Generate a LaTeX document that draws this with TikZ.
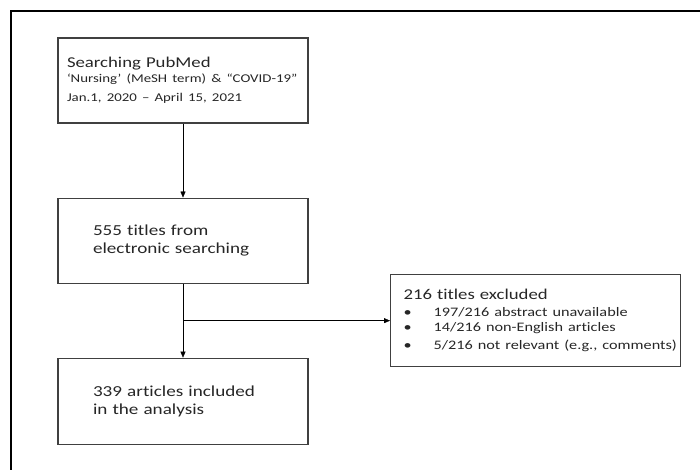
\documentclass[tikz,border=0pt]{standalone}
\usepackage{fontspec}
\setmainfont[FakeStretch=1.25, Ligatures=CommonOff]{Carlito}
\usetikzlibrary{positioning,arrows.meta}

\begin{document}
\begin{tikzpicture}[
  x=1pt, y=-1pt,
  box/.style={draw=black!75, line width=1.1pt, minimum width=250pt,
              minimum height=85pt, align=left, text width=180pt,
              inner xsep=35pt, inner ysep=0pt, text=black!85,
              font=\fontsize{15.3}{18.5}\selectfont},
  >={Triangle[length=6pt,width=5pt]}
]
  \useasboundingbox (0,0) rectangle (700,470);
  \draw[line width=1.3pt] (11,470) -- (11,11) -- (700,11);

  \node[box, text width=232pt, inner xsep=9pt] (search) at (183,80.5)
    {{\fontsize{15}{17}\selectfont Searching PubMed}\\[1pt]
     \fontsize{11.9}{14}\selectfont
     \mbox{‘Nursing’ (MeSH term) \& “COVID-19”}\\
     \mbox{Jan.1, 2020 – April 15, 2021}};
  \node[box, below=74pt of search] (titles)
    {555 titles from\\ electronic searching};
  \node[box, below=74pt of titles, minimum height=86pt] (included)
    {339 articles included\\ in the analysis};

  \coordinate[below=37pt of titles.south] (split);
  \node[box, right=207pt of split, minimum width=290pt, minimum height=92pt,
        text width=264pt, inner xsep=13pt, font=\fontsize{15}{18}\selectfont] (excluded)
    {216 titles excluded\\[1pt]
     \fontsize{13}{15.5}\selectfont
     \mbox{\makebox[30pt][l]{\textbullet}197/216 abstract unavailable}\\
     \mbox{\makebox[30pt][l]{\textbullet}14/216 non-English articles}\\
     \mbox{\makebox[30pt][l]{\textbullet}5/216 not relevant (e.g., comments)}};

  \draw[->] (search) -- (titles);
  \draw[->] (titles) -- (included);
  \draw[->] (split) -- (excluded);
\end{tikzpicture}
\end{document}
